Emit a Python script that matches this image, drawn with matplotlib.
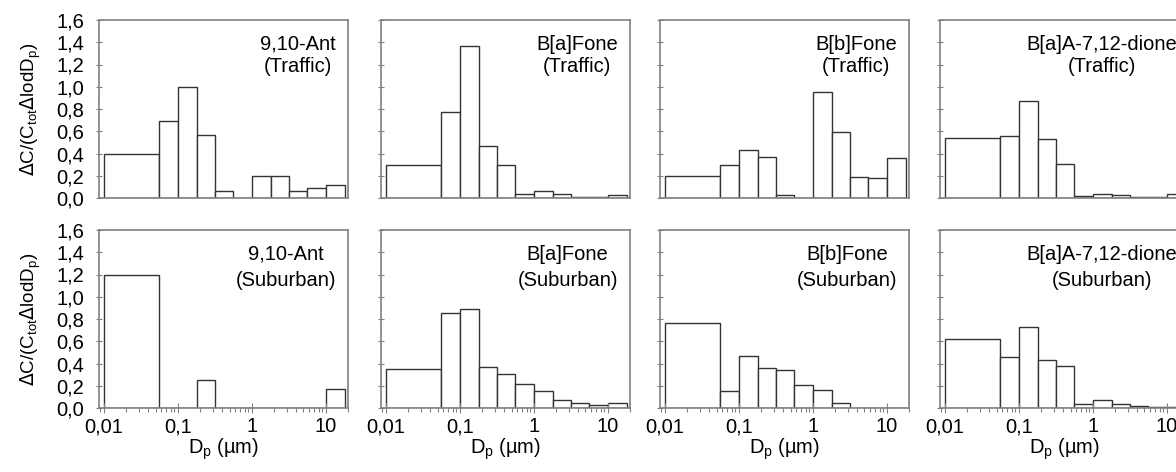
import matplotlib
matplotlib.use("Agg")
import matplotlib.pyplot as plt
from matplotlib.ticker import FixedLocator, FixedFormatter, LogLocator, NullFormatter, FuncFormatter

plt.rcParams['font.family'] = ['Liberation Sans', 'DejaVu Sans']

# MOUDI stage cut-offs (µm)
bin_edges = [0.01, 0.056, 0.1, 0.18, 0.32, 0.56, 1.0, 1.8, 3.2, 5.6, 10.0, 18.0]

compounds = ["9,10-Ant", "B[a]Fone", "B[b]Fone", "B[a]A-7,12-dione"]
sites = ["Traffic", "Suburban"]

ant_traffic = [0.40, 0.69, 1.00, 0.57, 0.066, 0.0, 0.20, 0.20, 0.06, 0.09, 0.12]
bafone_traffic = [0.30, 0.77, 1.37, 0.47, 0.30, 0.04, 0.06, 0.04, 0.012, 0.012, 0.024]
bbfone_traffic = [0.20, 0.30, 0.43, 0.37, 0.025, 0.0, 0.95, 0.59, 0.19, 0.18, 0.36]
baadione_traffic = [0.535, 0.553, 0.868, 0.526, 0.31, 0.018, 0.039, 0.03, 0.01, 0.01, 0.033]

ant_suburban = [1.20, 0.0, 0.0, 0.25, 0.0, 0.0, 0.0, 0.0, 0.0, 0.0, 0.17]
bafone_suburban = [0.354, 0.85, 0.886, 0.372, 0.303, 0.219, 0.153, 0.069, 0.042, 0.024, 0.048]
bbfone_suburban = [0.76, 0.153, 0.47, 0.36, 0.345, 0.21, 0.16, 0.048, 0.0, 0.0, 0.0]
baadione_suburban = [0.619, 0.462, 0.724, 0.432, 0.375, 0.036, 0.069, 0.033, 0.021, 0.012, 0.012]

data = {
    ("Traffic", 0): ant_traffic, ("Traffic", 1): bafone_traffic,
    ("Traffic", 2): bbfone_traffic, ("Traffic", 3): baadione_traffic,
    ("Suburban", 0): ant_suburban, ("Suburban", 1): bafone_suburban,
    ("Suburban", 2): bbfone_suburban, ("Suburban", 3): baadione_suburban,
}

xticks = [0.01, 0.1, 1, 10]
xticklabels = ["0,01", "0,1", "1", "10"]
yticks = [0.0, 0.2, 0.4, 0.6, 0.8, 1.0, 1.2, 1.4, 1.6]

W, H = 1176, 472
fig = plt.figure(figsize=(W / 100, H / 100), dpi=100)

col_left = [99, 381, 660, 940]
ax_w = 249
row_top = [20, 230]
ax_h = 178

spine_color = "#808080"
edge_color = "#333333"
fs = 14.5

for r, site in enumerate(sites):
    for c in range(4):
        left = col_left[c] / W
        bottom = 1 - (row_top[r] + ax_h) / H
        ax = fig.add_axes([left, bottom, ax_w / W, ax_h / H])
        vals = data[(site, c)]
        lefts = bin_edges[:-1]
        widths = [bin_edges[i + 1] - bin_edges[i] for i in range(len(vals))]
        ax.bar(lefts, vals, width=widths, align='edge', color='white',
               edgecolor=edge_color, linewidth=1.0)
        ax.set_xscale('log')
        ax.set_xlim(0.0086, 20)
        ax.set_ylim(0, 1.6)
        for s in ax.spines.values():
            s.set_color(spine_color)
            s.set_linewidth(1.2)
        ax.yaxis.set_major_locator(FixedLocator(yticks))
        ax.tick_params(axis='y', direction='inout', length=5, width=0.8,
                       colors=spine_color, labelcolor='black', labelsize=fs, pad=8)
        if c == 0:
            ax.yaxis.set_major_formatter(FuncFormatter(lambda v, p: f"{v:.1f}".replace('.', ',')))
            ax.set_ylabel(r"$\Delta$C/(C$_{\mathregular{tot}}$$\Delta$lodD$_{\mathregular{p}}$)",
                          fontsize=13.5, labelpad=10)
        else:
            ax.tick_params(axis='y', labelleft=False)
        ax.xaxis.set_major_locator(FixedLocator(xticks))
        ax.xaxis.set_minor_locator(LogLocator(base=10, subs=range(2, 10)))
        ax.xaxis.set_minor_formatter(NullFormatter())
        if r == 1:
            ax.xaxis.set_major_formatter(FixedFormatter(xticklabels))
            ax.tick_params(axis='x', which='major', direction='inout', length=7, width=0.8,
                           colors=spine_color, labelcolor='black', labelsize=fs, pad=3)
            ax.tick_params(axis='x', which='minor', direction='out', length=3, width=0.8,
                           colors=spine_color)
            ax.set_xlabel(r"D$_{\mathregular{p}}$ (µm)", fontsize=fs, labelpad=0)
        else:
            ax.tick_params(axis='x', which='both', length=0, labelbottom=False)
        ax.text(1 - 12 / ax_w, 1 - 15 / ax_h, f"{compounds[c]}\n({site})",
                transform=ax.transAxes, ha='right', va='top', multialignment='center',
                fontsize=fs, linespacing=1.2 if r == 0 else 1.45)

fig.savefig("out.png", dpi=100)
